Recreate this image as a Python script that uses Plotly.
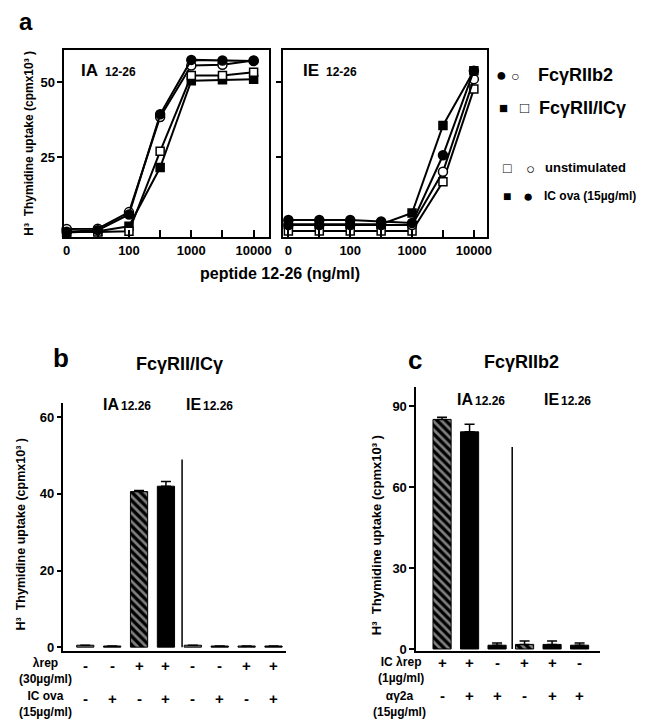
import plotly.graph_objects as go

W, H = 650, 720
def X(p): return p / W
def Y(p): return 1 - p / H

# ---------------- data ----------------
conc = ["0", "30", "100", "300", "1000", "3000", "10000"]
conc_ticktext = ["0", "", "100", "", "1000", "", "10000"]

ia_b2_icova = [0.3, 0.8, 6.0, 39.3, 57.4, 57.2, 57.0]     # filled circle
ia_b2_unstim = [1.2, 1.3, 6.8, 38.4, 55.5, 55.8, 57.2]    # open circle
ia_icg_unstim = [0.3, 0.2, 0.4, 27.0, 52.2, 52.2, 53.3]   # open square
ia_icg_icova = [0.0, 0.4, 2.1, 21.6, 50.5, 50.8, 51.0]    # filled square

ie_b2_icova = [4.2, 4.2, 4.2, 3.7, 3.2, 25.7, 53.8]
ie_b2_unstim = [2.5, 2.5, 2.5, 2.5, 2.5, 20.2, 51.0]
ie_icg_unstim = [0.5, 0.5, 0.5, 0.5, 0.5, 16.9, 47.7]
ie_icg_icova = [2.8, 2.8, 2.8, 2.8, 6.5, 35.6, 53.8]

b_cats = ["IA -/-", "IA -/+", "IA +/-", "IA +/+", "IE -/-", "IE -/+", "IE +/-", "IE +/+"]
b_values = [0.5, 0.3, 40.6, 42.0, 0.5, 0.3, 0.3, 0.3]
b_err = [0, 0, 0.3, 1.2, 0, 0, 0, 0]
b_lrep = ["-", "-", "+", "+", "-", "-", "+", "+"]
b_icova = ["-", "+", "-", "+", "-", "+", "-", "+"]

c_cats = ["IA +/-", "IA +/+", "IA -/+", "IE +/-", "IE +/+", "IE -/+"]
c_values = [85.2, 80.6, 1.4, 1.7, 1.7, 1.4]
c_err = [0.8, 2.8, 0.8, 1.3, 1.3, 0.8]
c_iclrep = ["+", "+", "-", "+", "+", "-"]
c_ag2a = ["-", "+", "+", "-", "+", "+"]

FONT = "Liberation Sans, Arial, Helvetica, sans-serif"

fig = go.Figure()

def line_trace(y, xa, ya, sym, fill):
    return go.Scatter(
        x=conc, y=y, xaxis=xa, yaxis=ya, mode="lines+markers",
        line=dict(color="black", width=2),
        marker=dict(symbol=sym, size=9 if sym == "circle" else 8, color=fill,
                    line=dict(color="black", width=1.5)),
        cliponaxis=False, showlegend=False)

fig.add_trace(line_trace(ia_icg_icova, "x", "y", "square", "black"))
fig.add_trace(line_trace(ia_icg_unstim, "x", "y", "square", "white"))
fig.add_trace(line_trace(ia_b2_unstim, "x", "y", "circle", "white"))
fig.add_trace(line_trace(ia_b2_icova, "x", "y", "circle", "black"))

fig.add_trace(line_trace(ie_icg_unstim, "x2", "y2", "square", "white"))
fig.add_trace(line_trace(ie_b2_unstim, "x2", "y2", "circle", "white"))
fig.add_trace(line_trace(ie_b2_icova, "x2", "y2", "circle", "black"))
fig.add_trace(line_trace(ie_icg_icova, "x2", "y2", "square", "black"))

# bars panel b
b_colors = ["#7a7a7a" if (l == "-" and o == "-") else "black" for l, o in zip(b_lrep, b_icova)]
b_shapes = ["\\" if (l == "+" and o == "-") else "" for l, o in zip(b_lrep, b_icova)]
fig.add_trace(go.Bar(
    x=b_cats, y=b_values, xaxis="x3", yaxis="y3", width=0.64,
    marker=dict(color=b_colors, line=dict(color="black", width=1),
                pattern=dict(shape=b_shapes, fgcolor="white", bgcolor="black",
                             size=6, solidity=0.45, fillmode="overlay")),
    error_y=dict(type="data", array=b_err, arrayminus=[0] * len(b_err), symmetric=False,
                 color="black", thickness=1.5, width=5),
    showlegend=False))

c_shapes = ["\\" if (l == "+" and a == "-") else "" for l, a in zip(c_iclrep, c_ag2a)]
fig.add_trace(go.Bar(
    x=c_cats, y=c_values, xaxis="x4", yaxis="y4", width=0.66,
    marker=dict(color="black", line=dict(color="black", width=1),
                pattern=dict(shape=c_shapes, fgcolor="white", bgcolor="black",
                             size=6, solidity=0.45, fillmode="overlay")),
    error_y=dict(type="data", array=c_err, arrayminus=[0] * len(c_err), symmetric=False,
                 color="black", thickness=1.5, width=5),
    showlegend=False))

tickfont = dict(family=FONT, size=13, color="black", weight="bold")

a_x = dict(type="category", categoryorder="array", categoryarray=conc,
           tickmode="array", tickvals=conc, ticktext=conc_ticktext,
           ticks="inside", ticklen=7, tickwidth=1.5, tickcolor="black",
           showline=True, linecolor="black", linewidth=2, mirror=True,
           showgrid=False, zeroline=False, tickfont=tickfont)
a_y = dict(range=[-1.5, 60.8], tickmode="array", tickvals=[25, 50],
           ticks="outside", ticklen=5, tickwidth=1.5, tickcolor="black",
           showline=True, linecolor="black", linewidth=2, mirror=True,
           showgrid=False, zeroline=False, tickfont=tickfont)

fig.update_layout(
    width=W, height=H, margin=dict(l=0, r=0, t=0, b=0),
    paper_bgcolor="white", plot_bgcolor="white",
    font=dict(family=FONT, color="black"),
    xaxis=dict(a_x, domain=[X(56), X(262)], range=[-0.07, 6.48], anchor="y"),
    yaxis=dict(a_y, domain=[Y(231), Y(42)], anchor="x"),
    xaxis2=dict(a_x, domain=[X(277), X(482)], range=[-0.16, 6.41], anchor="y2"),
    yaxis2=dict(a_y, domain=[Y(231), Y(42)], anchor="x2", showticklabels=False),
    xaxis3=dict(type="category", domain=[X(55), X(280)], range=[-0.81, 7.48], anchor="y3",
                showticklabels=False, ticks="", showline=True, linecolor="black",
                linewidth=1.5, showgrid=False, zeroline=False),
    yaxis3=dict(domain=[Y(648), Y(398)], range=[-0.9, 63.8], anchor="x3",
                tickmode="array", tickvals=[0, 20, 40, 60], ticks="outside", ticklen=5,
                tickwidth=1.5, tickcolor="black", showline=True, linecolor="black",
                linewidth=1.5, showgrid=False, zeroline=False, tickfont=tickfont),
    xaxis4=dict(type="category", domain=[X(411), X(597)], range=[-0.94, 5.76], anchor="y4",
                showticklabels=False, ticks="", showline=True, linecolor="black",
                linewidth=1.5, showgrid=False, zeroline=False),
    yaxis4=dict(domain=[Y(648), Y(382)], range=[-0.6, 97.3], anchor="x4",
                tickmode="array", tickvals=[0, 30, 60, 90], ticks="outside", ticklen=5,
                tickwidth=1.5, tickcolor="black", showline=True, linecolor="black",
                linewidth=1.5, showgrid=False, zeroline=False, tickfont=tickfont),
)

# divider lines
fig.add_shape(type="line", xref="x3", yref="y3", x0=3.6, x1=3.6, y0=0, y1=49,
              line=dict(color="black", width=1.5))
fig.add_shape(type="line", xref="x4", yref="y4", x0=2.55, x1=2.55, y0=0, y1=75,
              line=dict(color="black", width=1.5))

anns = []
def ann(text, x, y, size, xanchor="center", yanchor="middle", angle=0, align="center"):
    anns.append(dict(text=text, x=X(x), y=Y(y), xref="paper", yref="paper",
                     showarrow=False, xanchor=xanchor, yanchor=yanchor, textangle=angle,
                     align=align,
                     font=dict(family=FONT, size=size, color="black", weight="bold")))

ytitle = "H³  Thymidine uptake (cpmx10³ )"
# panel a
ann("a", 17, 14, 24)
ann("IA", 71, 63, 17, xanchor="left")
ann("12-26", 95, 65, 12, xanchor="left")
ann("IE", 295, 63, 17, xanchor="left")
ann("12-26", 318, 65, 12, xanchor="left")
ann(ytitle, 20, 136, 12, angle=-90)
ann("peptide 12-26 (ng/ml)", 274, 268, 16)

# legend
ann("●", 497, 68, 18)
ann("○", 511, 69, 14)
ann("FcγRIIb2", 532, 68, 18, xanchor="left")
ann("■", 499, 100, 15)
ann("□", 520, 100, 15)
ann("FcγRII/ICγ", 533, 101, 18, xanchor="left")
ann("□", 503, 161, 14)
ann("○", 526, 162, 15)
ann("unstimulated", 539, 161, 13, xanchor="left")
ann("■", 503, 190, 14)
ann("●", 524, 190, 17)
ann("IC ova (15µg/ml)", 538, 190, 12, xanchor="left")

# panel b
ann("b", 52, 353, 26)
ann("FcγRII/ICγ", 172, 359, 18)
ann("IA", 93, 400, 16, xanchor="left")
ann("12.26", 111, 401, 12, xanchor="left")
ann("IE", 177, 400, 16, xanchor="left")
ann("12.26", 194, 401, 12, xanchor="left")
ann(ytitle, 12, 531, 12.5, angle=-90)
ann("λrep<br>(30µg/ml)", 37, 669, 12)
ann("IC ova<br>(15µg/ml)", 37, 702, 12)

# panel c
ann("c", 410, 355, 26)
ann("FcγRIIb2", 517, 357, 18)
ann("IA", 450, 395, 16, xanchor="left")
ann("12.26", 468, 396, 12, xanchor="left")
ann("IE", 538, 395, 16, xanchor="left")
ann("12.26", 555, 396, 12, xanchor="left")
ann(ytitle, 371, 532, 13, angle=-90)
ann("IC λrep<br>(1µg/ml)", 396, 668, 12)
ann("αγ2a<br>(15µg/ml)", 394, 702, 12)

fig.update_layout(annotations=anns)

for i, (s1, s2) in enumerate(zip(b_lrep, b_icova)):
    for s, yp in ((s1, 674), (s2, 707)):
        fig.add_annotation(text=s, x=i, xref="x3", y=Y(yp), yref="paper", showarrow=False,
                           font=dict(family=FONT, size=15, color="black", weight="bold"))
for i, (s1, s2) in enumerate(zip(c_iclrep, c_ag2a)):
    for s, yp in ((s1, 671), (s2, 704)):
        fig.add_annotation(text=s, x=i, xref="x4", y=Y(yp), yref="paper", showarrow=False,
                           font=dict(family=FONT, size=15, color="black", weight="bold"))

fig.write_html("out.html")
